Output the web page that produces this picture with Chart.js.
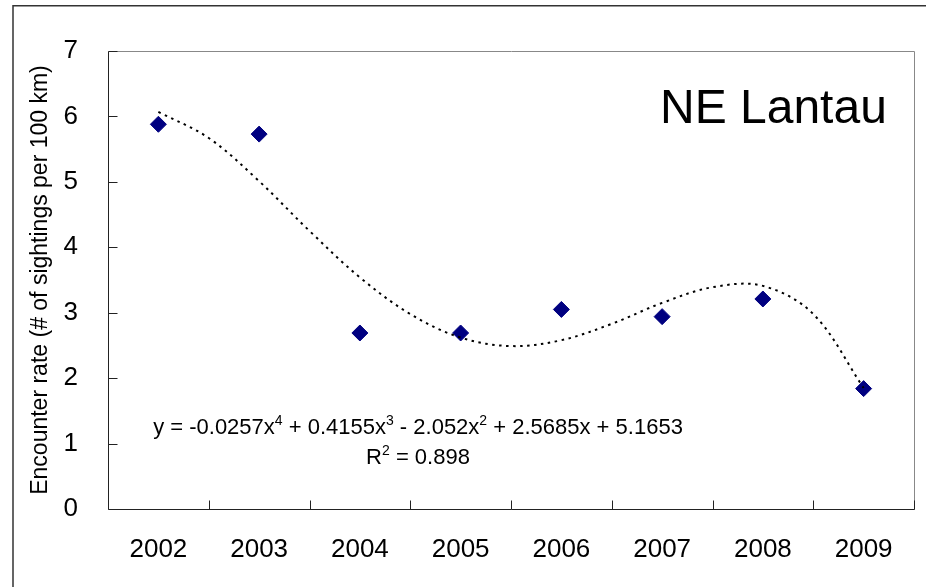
<!DOCTYPE html>
<html>
<head>
<meta charset="utf-8">
<script src="https://cdn.jsdelivr.net/npm/chart.js@4.4.0/dist/chart.umd.min.js"></script>
<style>
  html, body { margin: 0; padding: 0; background: #fff; }
  #wrap { width: 926px; height: 587px; position: relative; }
</style>
</head>
<body>
<div id="wrap"><canvas id="chart"></canvas></div>
<script>
// ==================== DATA ====================
const years = ['2002', '2003', '2004', '2005', '2006', '2007', '2008', '2009'];
const encounterRate = [5.88, 5.73, 2.69, 2.69, 3.05, 2.94, 3.21, 1.84];

// dotted trend line (x = year index, 1 = 2002)
const trendX = [1, 1.5, 2, 2.5, 3, 3.5, 4, 4.5, 5, 5.5, 6, 6.5, 7, 7.5, 8];
const trendY = [6.07, 5.67, 5.01, 4.25, 3.54, 2.98, 2.62, 2.49, 2.58, 2.83, 3.15, 3.39, 3.41, 2.98, 1.85];

const yMin = 0;
const yMax = 7;
const yTitle = 'Encounter rate (# of sightings per 100 km)';
const areaLabel = 'NE Lantau';
const equationParts = [
  ['y = -0.0257x', false], ['4', true],
  [' + 0.4155x', false], ['3', true],
  [' - 2.052x', false], ['2', true],
  [' + 2.5685x + 5.1653', false]
];
const rSquaredParts = [['R', false], ['2', true], [' = 0.898', false]];

const FONT = '"Liberation Sans", Arial, sans-serif';

// ==================== HELPERS ====================
function drawRichLine(ctx, parts, cx, baseline, size) {
  const supSize = Math.round(size * 0.65);
  let total = 0;
  parts.forEach(p => {
    ctx.font = (p[1] ? supSize : size) + 'px ' + FONT;
    total += ctx.measureText(p[0]).width;
  });
  let x = cx - total / 2;
  ctx.textAlign = 'left';
  ctx.textBaseline = 'alphabetic';
  parts.forEach(p => {
    ctx.font = (p[1] ? supSize : size) + 'px ' + FONT;
    ctx.fillText(p[0], x, p[1] ? baseline - size * 0.42 : baseline);
    x += ctx.measureText(p[0]).width;
  });
}

const decorPlugin = {
  id: 'decor',
  afterDraw(chart) {
    const ctx = chart.ctx;
    const a = chart.chartArea;
    const ys = chart.scales.y;
    const L = Math.round(a.left) + 0.5;
    const R = Math.round(a.right) + 0.5;
    const T = Math.round(a.top) + 0.5;
    const B = Math.round(a.bottom) + 0.5;
    ctx.save();

    // outer frame (only left and top edges are inside the picture)
    ctx.strokeStyle = '#333';
    ctx.lineWidth = 1.5;
    ctx.beginPath();
    ctx.moveTo(13, 600);
    ctx.lineTo(13, 5.8);
    ctx.lineTo(940, 5.8);
    ctx.stroke();

    // plot area border (top / right)
    ctx.lineWidth = 1;
    ctx.strokeStyle = '#888';
    ctx.beginPath();
    ctx.moveTo(L, T);
    ctx.lineTo(R, T);
    ctx.lineTo(R, B);
    ctx.stroke();

    // axes
    ctx.strokeStyle = '#222';
    ctx.beginPath();
    ctx.moveTo(L, T);
    ctx.lineTo(L, B);
    ctx.lineTo(R, B);
    ctx.stroke();

    // inward tick marks
    ctx.beginPath();
    for (let v = yMin; v <= yMax; v++) {
      const py = Math.round(ys.getPixelForValue(v)) + 0.5;
      ctx.moveTo(L, py);
      ctx.lineTo(L + 9, py);
    }
    const step = (a.right - a.left) / years.length;
    for (let i = 1; i <= years.length; i++) {
      const px = Math.round(a.left + step * i) + 0.5;
      ctx.moveTo(px, B);
      ctx.lineTo(px, B - 9);
    }
    ctx.stroke();

    // labels inside the plot
    ctx.fillStyle = '#000';
    ctx.font = '48px ' + FONT;
    ctx.textAlign = 'left';
    ctx.textBaseline = 'alphabetic';
    ctx.fillText(areaLabel, 660, 123);

    drawRichLine(ctx, equationParts, 418, 434, 22);
    drawRichLine(ctx, rSquaredParts, 418, 464, 22);
    ctx.restore();
  }
};

// ==================== CHART ====================
const ctx = document.getElementById('chart').getContext('2d');

new Chart(ctx, {
  type: 'line',
  data: {
    labels: years,
    datasets: [
      {
        label: 'Trend',
        xAxisID: 'xTrend',
        data: trendX.map((x, i) => ({ x: x, y: trendY[i] })),
        borderColor: '#000',
        borderWidth: 2,
        borderDash: [2.5, 4.5],
        pointRadius: 0,
        tension: 0.35,
        fill: false,
        order: 0
      },
      {
        label: 'Encounter rate',
        xAxisID: 'x',
        data: encounterRate,
        showLine: false,
        pointStyle: 'rectRot',
        pointRadius: 8,
        pointHoverRadius: 8,
        pointBackgroundColor: '#000080',
        pointBorderColor: '#000080',
        pointBorderWidth: 1,
        order: 1
      }
    ]
  },
  options: {
    responsive: true,
    maintainAspectRatio: false,
    animation: false,
    events: [],
    layout: { padding: { top: 51, right: 12, bottom: 0, left: 0 } },
    plugins: {
      legend: { display: false },
      tooltip: { enabled: false }
    },
    scales: {
      x: {
        type: 'category',
        offset: true,
        grid: { display: false, drawTicks: false },
        border: { display: false },
        ticks: {
          color: '#000',
          padding: 25,
          maxRotation: 0,
          autoSkip: false,
          font: { family: FONT, size: 26 }
        },
        afterFit: function(scale) { scale.height = 78; }
      },
      xTrend: {
        type: 'linear',
        display: false,
        min: 0.5,
        max: 8.5
      },
      y: {
        min: yMin,
        max: yMax,
        grid: { display: false, drawTicks: false },
        border: { display: false },
        ticks: {
          stepSize: 1,
          color: '#000',
          padding: 30,
          font: { family: FONT, size: 26 }
        },
        title: {
          display: true,
          text: yTitle,
          color: '#000',
          font: { family: FONT, size: 23 },
          padding: { top: 27, bottom: 0 }
        },
        afterFit: function(scale) { scale.width = 108; }
      }
    }
  },
  plugins: [decorPlugin]
});
</script>
</body>
</html>
